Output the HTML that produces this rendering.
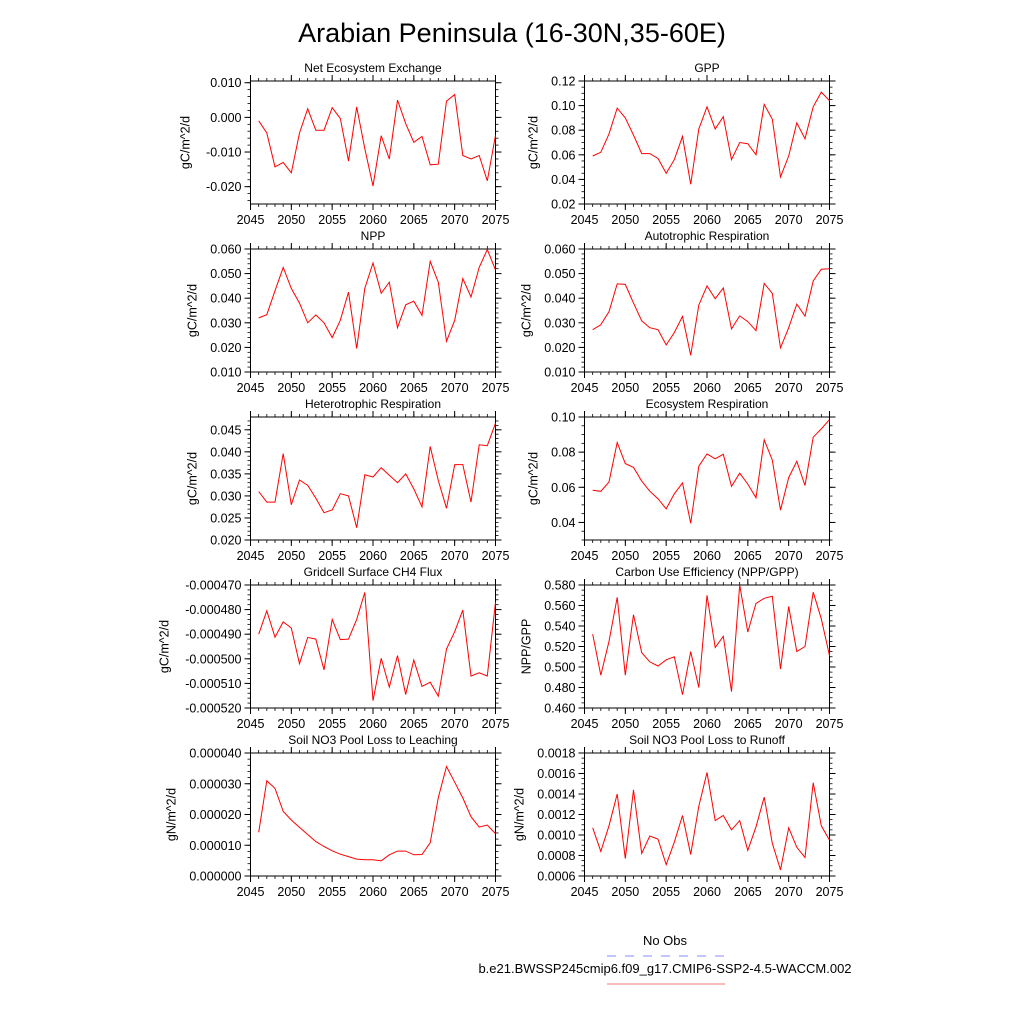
<!DOCTYPE html>
<html><head><meta charset="utf-8"><style>
html,body{margin:0;padding:0;background:#fff;}
svg text{font-family:"Liberation Sans",sans-serif;fill:#000;}
</style></head><body>
<svg id="root" xmlns="http://www.w3.org/2000/svg" width="1024" height="1024" viewBox="0 0 1024 1024">
<rect width="1024" height="1024" fill="#fff"/>
<text x="512" y="42" font-size="27" text-anchor="middle">Arabian Peninsula (16-30N,35-60E)</text>
<g>
<text x="665" y="945" font-size="13" text-anchor="middle">No Obs</text>
<line x1="607" y1="956" x2="725" y2="956" stroke="#8888ff" stroke-width="1" stroke-dasharray="9,9"/>
<text x="665" y="973" font-size="13" text-anchor="middle">b.e21.BWSSP245cmip6.f09_g17.CMIP6-SSP2-4.5-WACCM.002</text>
<line x1="607" y1="984" x2="725" y2="984" stroke="#ee7777" stroke-width="1"/>
</g>
</svg>
<script>
const years = [2046,2047,2048,2049,2050,2051,2052,2053,2054,2055,2056,2057,2058,2059,2060,2061,2062,2063,2064,2065,2066,2067,2068,2069,2070,2071,2072,2073,2074,2075];
const xTicks = [2045,2050,2055,2060,2065,2070,2075];
const neeVals = [-0.001,-0.0045,-0.0143,-0.013,-0.016,-0.0045,0.0025,-0.0037,-0.0037,0.0028,-0.0003,-0.0126,0.003,-0.009,-0.0198,-0.0053,-0.012,0.005,-0.0018,-0.0072,-0.0055,-0.0137,-0.0135,0.0047,0.0066,-0.011,-0.012,-0.011,-0.0183,-0.0052];
const neeTicks = ["0.010","0.000","-0.010","-0.020"];
const gppVals = [0.059,0.062,0.077,0.098,0.090,0.076,0.061,0.061,0.057,0.045,0.056,0.075,0.036,0.081,0.099,0.081,0.091,0.056,0.070,0.069,0.060,0.101,0.089,0.042,0.059,0.086,0.073,0.099,0.111,0.104];
const gppTicks = ["0.02","0.04","0.06","0.08","0.10","0.12"];
const nppVals = [0.032,0.0333,0.043,0.0525,0.044,0.038,0.030,0.0332,0.030,0.024,0.031,0.0425,0.0195,0.044,0.0543,0.042,0.0465,0.028,0.0373,0.0388,0.033,0.055,0.0465,0.0225,0.031,0.048,0.0405,0.0525,0.0598,0.0515];
const nppTicks = ["0.010","0.020","0.030","0.040","0.050","0.060"];
const arVals = [0.0272,0.0292,0.0345,0.0458,0.0456,0.038,0.0308,0.028,0.0272,0.021,0.026,0.0326,0.0168,0.0372,0.045,0.0398,0.0442,0.0275,0.0328,0.0305,0.0268,0.046,0.042,0.0198,0.028,0.0376,0.0327,0.047,0.0518,0.052];
const arTicks = ["0.010","0.020","0.030","0.040","0.050","0.060"];
const hrVals = [0.031,0.0286,0.0286,0.0396,0.028,0.0336,0.0324,0.0295,0.0262,0.0268,0.0305,0.0300,0.0228,0.0348,0.0343,0.0364,0.0347,0.0330,0.0350,0.0316,0.0275,0.0412,0.0335,0.0272,0.0371,0.0371,0.0286,0.0416,0.0414,0.0465];
const hrTicks = ["0.020","0.025","0.030","0.035","0.040","0.045"];
const erVals = [0.0583,0.0577,0.063,0.0855,0.0735,0.0713,0.0635,0.0578,0.0535,0.0477,0.0563,0.0625,0.0395,0.072,0.079,0.0762,0.0788,0.0605,0.068,0.0618,0.054,0.087,0.0755,0.047,0.0655,0.0748,0.061,0.0885,0.0932,0.0985];
const erTicks = ["0.04","0.06","0.08","0.10"];
const ch4Vals = [-0.000490,-0.0004805,-0.0004912,-0.000485,-0.0004875,-0.000502,-0.0004913,-0.000492,-0.0005045,-0.000484,-0.0004922,-0.000492,-0.000484,-0.000473,-0.000517,-0.0004998,-0.0005115,-0.0004987,-0.0005145,-0.0005005,-0.0005112,-0.0005095,-0.0005152,-0.000496,-0.000489,-0.0004802,-0.000507,-0.0005057,-0.000507,-0.000477];
const ch4Ticks = ["-0.000470","-0.000480","-0.000490","-0.000500","-0.000510","-0.000520"];
const cueVals = [0.532,0.492,0.525,0.568,0.492,0.551,0.514,0.505,0.501,0.507,0.510,0.473,0.515,0.480,0.570,0.519,0.530,0.476,0.580,0.534,0.562,0.567,0.569,0.498,0.559,0.515,0.520,0.573,0.547,0.511];
const cueTicks = ["0.460","0.480","0.500","0.520","0.540","0.560","0.580"];
const leachVals = [0.0000142,0.000031,0.0000285,0.000021,0.0000182,0.0000158,0.0000135,0.0000112,0.0000096,0.0000082,0.0000071,0.0000063,0.0000055,0.0000053,0.0000053,0.0000049,0.0000069,0.0000081,0.0000081,0.0000069,0.000007,0.0000108,0.0000255,0.0000356,0.0000305,0.0000254,0.0000193,0.0000159,0.0000166,0.0000138];
const leachTicks = ["0.000000","0.000010","0.000020","0.000030","0.000040"];
const runoffVals = [0.00107,0.00084,0.00109,0.00140,0.00077,0.00144,0.00082,0.00099,0.00096,0.00071,0.00093,0.00119,0.00081,0.00128,0.00161,0.00114,0.00119,0.00105,0.00114,0.00085,0.00108,0.00137,0.00092,0.00066,0.00107,0.00088,0.00078,0.00151,0.00109,0.00095];
const runoffTicks = ["0.0006","0.0008","0.0010","0.0012","0.0014","0.0016","0.0018"];

const NS="http://www.w3.org/2000/svg";
const root=document.getElementById('root');
function mk(tag,attrs,parent){const e=document.createElementNS(NS,tag);for(const k in attrs)e.setAttribute(k,attrs[k]);parent.appendChild(e);return e;}

const panels=[
 {id:'nee',title:'Net Ecosystem Exchange',unit:'gC/m^2/d',vals:neeVals,ticks:neeTicks,ymin:-0.025,ymax:0.0105,minor:0.002,col:0,row:0},
 {id:'gpp',title:'GPP',unit:'gC/m^2/d',vals:gppVals,ticks:gppTicks,ymin:0.02,ymax:0.12,minor:0.005,col:1,row:0},
 {id:'npp',title:'NPP',unit:'gC/m^2/d',vals:nppVals,ticks:nppTicks,ymin:0.01,ymax:0.06,minor:0.002,col:0,row:1},
 {id:'ar',title:'Autotrophic Respiration',unit:'gC/m^2/d',vals:arVals,ticks:arTicks,ymin:0.01,ymax:0.06,minor:0.002,col:1,row:1},
 {id:'hr',title:'Heterotrophic Respiration',unit:'gC/m^2/d',vals:hrVals,ticks:hrTicks,ymin:0.02,ymax:0.0479,minor:0.001,col:0,row:2},
 {id:'er',title:'Ecosystem Respiration',unit:'gC/m^2/d',vals:erVals,ticks:erTicks,ymin:0.03,ymax:0.10,minor:0.005,col:1,row:2},
 {id:'ch4',title:'Gridcell Surface CH4 Flux',unit:'gC/m^2/d',vals:ch4Vals,ticks:ch4Ticks,ymin:-0.00052,ymax:-0.00047,minor:0.000002,col:0,row:3},
 {id:'cue',title:'Carbon Use Efficiency (NPP/GPP)',unit:'NPP/GPP',vals:cueVals,ticks:cueTicks,ymin:0.46,ymax:0.58,minor:0.005,col:1,row:3},
 {id:'leach',title:'Soil NO3 Pool Loss to Leaching',unit:'gN/m^2/d',vals:leachVals,ticks:leachTicks,ymin:0,ymax:0.00004,minor:0.000002,col:0,row:4},
 {id:'runoff',title:'Soil NO3 Pool Loss to Runoff',unit:'gN/m^2/d',vals:runoffVals,ticks:runoffTicks,ymin:0.0006,ymax:0.0018,minor:0.00005,col:1,row:4}
];
const colX=[250.5,584.5], W=245, rowY=[81,249,417,585,753], H=123;

panels.forEach(p=>{
 const L=colX[p.col], T=rowY[p.row], R=L+W, B=T+H;
 const g=mk('g',{},root);
 
 
 const xs=v=>L+(v-2045)/30*W;
 const ys=v=>B-(v-p.ymin)/(p.ymax-p.ymin)*H;
 // minor ticks y
 const nMin=Math.round((p.ymax-p.ymin)/p.minor);
 const start=Math.ceil(p.ymin/p.minor-1e-6);
 for(let k=start;k*p.minor<=p.ymax+1e-12;k++){
  const y=ys(k*p.minor);
  mk('line',{x1:L-3,x2:L,y1:y,y2:y,stroke:'#000','stroke-width':0.8},g);
  mk('line',{x1:R,x2:R+3,y1:y,y2:y,stroke:'#000','stroke-width':0.8},g);
 }
 for(let yr=2045;yr<=2075;yr++){
  const x=xs(yr);
  mk('line',{x1:x,x2:x,y1:B,y2:B+3,stroke:'#000','stroke-width':0.8},g);
  mk('line',{x1:x,x2:x,y1:T-3,y2:T,stroke:'#000','stroke-width':0.8},g);
 }
 // major y ticks
 p.ticks.forEach(t=>{
  const y=ys(parseFloat(t));
  mk('line',{x1:L-6,x2:L,y1:y,y2:y,stroke:'#000','stroke-width':1},g);
  mk('line',{x1:R,x2:R+6,y1:y,y2:y,stroke:'#000','stroke-width':1},g);
  const tx=mk('text',{x:L-9,y:y+4.5,'font-size':12.5,'text-anchor':'end'},g);
  tx.textContent=t;
  
  
 });
 xTicks.forEach(t=>{
  const x=xs(t);
  mk('line',{x1:x,x2:x,y1:B,y2:B+6,stroke:'#000','stroke-width':1},g);
  mk('line',{x1:x,x2:x,y1:T-6,y2:T,stroke:'#000','stroke-width':1},g);
  const tx=mk('text',{x:x,y:B+20,'font-size':12.5,'text-anchor':'middle'},g);
  tx.textContent=t;
  
  
 });
 const fr=mk('rect',{x:L,y:T,width:W,height:H,fill:'none',stroke:'#000','stroke-width':1},g);
 
 
 const pts=p.vals.map((v,i)=>xs(years[i]).toFixed(1)+','+ys(v).toFixed(1)).join(' ');
 const pl=mk('polyline',{points:pts,fill:'none',stroke:'#ff0000','stroke-width':1},g);
 
 
 const ti=mk('text',{x:L+W/2,y:T-9,'font-size':12,'text-anchor':'middle'},g);
 ti.textContent=p.title;
 
 
 const maxLen=Math.max(...p.ticks.map(s=>s.length));
 const lx=L-9-maxLen*7.0-10;
 const yl=mk('text',{x:lx,y:T+H/2,'font-size':12.5,'text-anchor':'middle',transform:'rotate(-90 '+lx+' '+(T+H/2)+')'},g);
 yl.textContent=p.unit;
 
 
});
</script>
</body></html>
